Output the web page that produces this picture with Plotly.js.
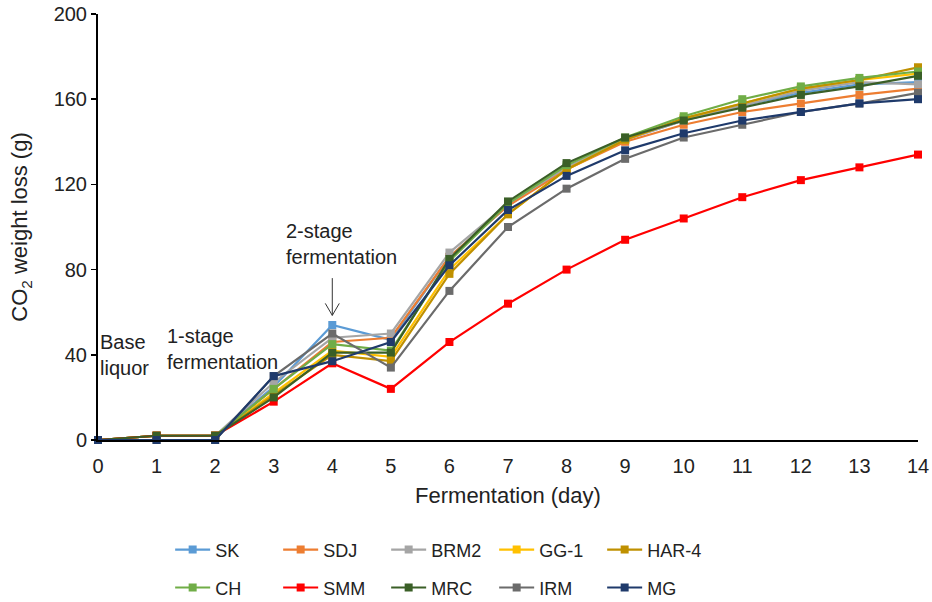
<!DOCTYPE html>
<html>
<head>
<meta charset="utf-8">
<script src="https://cdn.plot.ly/plotly-3.0.1.min.js"></script>
<style>html,body{margin:0;padding:0;background:#fff;}#chart{width:932px;height:602px;}</style>
</head>
<body>
<div id="chart"></div>
<script>
const days = [0,1,2,3,4,5,6,7,8,9,10,11,12,13,14];
const strainNames = ["SK","SDJ","BRM2","GG-1","HAR-4","CH","SMM","MRC","IRM","MG"];
const SK    = [0,2,2,25,54,47,86,110,128,141,150,157,163,167,168];
const SDJ   = [0,2,2,24,46,48,86,110,127,140,148,154,158,162,165];
const BRM2  = [0,2,2,27,48,50,88,111,128,141,150,157,164,168,167];
const GG1   = [0,2,2,22,42,39,80,106,127,141,151,158,165,169,172];
const HAR4  = [0,2,2,21,40,37,78,106,127,141,151,158,165,169,175];
const CH    = [0,2,2,24,45,42,84,111,129,142,152,160,166,170,173];
const SMM   = [0,2,2,18,36,24,46,64,80,94,104,114,122,128,134];
const MRC   = [0,2,2,20,41,41,85,112,130,142,150,156,162,166,171];
const IRM   = [0,0,0,30,50,34,70,100,118,132,142,148,154,158,163];
const MG    = [0,0,0,30,37,46,82,108,124,136,144,150,154,158,160];
const seriesValues = [SK,SDJ,BRM2,GG1,HAR4,CH,SMM,MRC,IRM,MG];
const colors = ["#5B9BD5","#ED7D31","#A5A5A5","#FFC000","#BF9000","#70AD47","#FF0000","#3A5F27","#6B6B6B","#1F3A6B"];
const yTicks = [0,40,80,120,160,200];
const xTicks = days;

const FONT = "Liberation Sans, Arial, sans-serif";
const traces = strainNames.map((n,i)=>({
  x: days, y: seriesValues[i], name: n, type: "scatter", mode: "lines+markers",
  line: {color: colors[i], width: 2.2},
  marker: {symbol: "square", size: 8, color: colors[i]},
  cliponaxis: false,
  legend: i < 5 ? "legend" : "legend2"
}));

const legendBase = {
  orientation: "h", xanchor: "left", yanchor: "middle",
  font: {family: FONT, size: 18, color: "#222"},
  entrywidth: 58, entrywidthmode: "pixels", itemwidth: 35,
  bgcolor: "rgba(0,0,0,0)", traceorder: "normal"
};

const layout = {
  width: 932, height: 602,
  margin: {l: 98, r: 14, t: 14, b: 162, autoexpand: false},
  paper_bgcolor: "#fff", plot_bgcolor: "#fff",
  font: {family: FONT, size: 20, color: "#222"},
  showlegend: true,
  xaxis: {
    range: [0, 14], tickvals: xTicks, ticktext: xTicks.map(String), automargin: false,
    showgrid: false, zeroline: false, showline: true, linecolor: "#000", linewidth: 2,
    ticks: "", ticklabelstandoff: 7, tickfont: {family: FONT, size: 20, color: "#222"},
    title: {text: "Fermentation (day)", font: {family: FONT, size: 22, color: "#222"}, standoff: 12}
  },
  yaxis: {
    range: [0, 200], tickvals: yTicks, ticktext: yTicks.map(String), automargin: false,
    showgrid: false, zeroline: false, showline: true, linecolor: "#000", linewidth: 2,
    ticks: "outside", ticklen: 5, tickwidth: 1.5, tickcolor: "#000",
    tickfont: {family: FONT, size: 20, color: "#222"},
    title: {text: "CO<sub>2</sub> weight loss (g)", font: {family: FONT, size: 22, color: "#222"}, standoff: 20}
  },
  legend: Object.assign({}, legendBase, {x: 0.088, y: -0.258}),
  legend2: Object.assign({}, legendBase, {x: 0.088, y: -0.347}),
  annotations: [
    {xref: "paper", yref: "paper", x: 0.0, y: 0.2, xanchor: "left", yanchor: "middle", align: "left",
     text: "Base<br>liquor", showarrow: false, font: {family: FONT, size: 20, color: "#222"}},
    {xref: "paper", yref: "paper", x: 0.082, y: 0.214, xanchor: "left", yanchor: "middle", align: "left",
     text: "1-stage<br>fermentation", showarrow: false, font: {family: FONT, size: 20, color: "#222"}},
    {xref: "paper", yref: "paper", x: 0.227, y: 0.459, xanchor: "left", yanchor: "middle", align: "left",
     text: "2-stage<br>fermentation", showarrow: false, font: {family: FONT, size: 20, color: "#222"}}
  ],
  shapes: [
    {type: "line", xref: "x", yref: "y", x0: 4, x1: 4, y0: 58.5, y1: 76,
     line: {color: "#333", width: 1}},
    {type: "path", xref: "x", yref: "y", xsizemode: "pixel", ysizemode: "pixel",
     xanchor: 4, yanchor: 58.5, path: "M-7,12 L0,0 L7,12",
     line: {color: "#333", width: 1}}
  ]
};
Plotly.newPlot("chart", traces, layout, {displayModeBar: false, staticPlot: true});
</script>
</body>
</html>
